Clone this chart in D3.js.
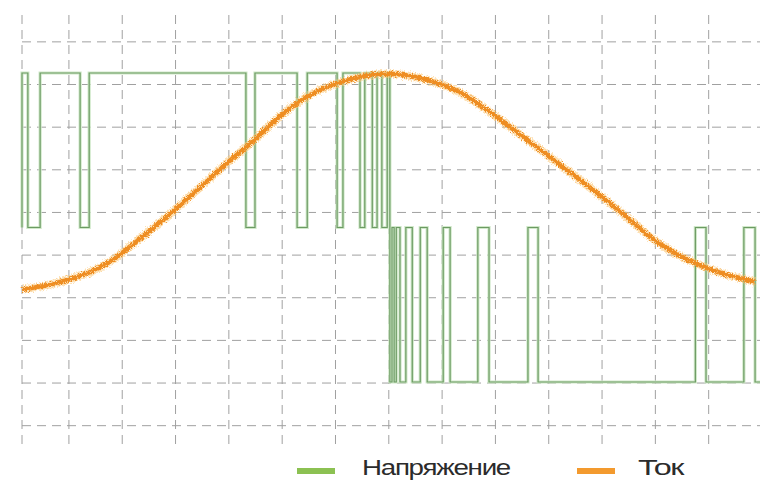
<!DOCTYPE html>
<html>
<head>
<meta charset="utf-8">
<script src="https://cdn.jsdelivr.net/npm/d3@7"></script>
<style>
    body { margin: 0; background: #fff; }
    svg { display: block; }
    .grid line { stroke: #a0a0a0; stroke-width: 1; stroke-dasharray: 9,6; }
    .legend text { font-family: "Liberation Sans", Arial, sans-serif; fill: #2b2b2b; }
</style>
</head>
<body>
<svg width="760" height="480"></svg>
<script>
// time in grid divisions, voltage as level (+1 / 0 / -1), current in grid divisions

var voltageTime = [0.12, 0.12, 0.23, 0.46, 1.21, 1.38, 4.32, 4.49, 5.28, 5.47,
    6.03, 6.14, 6.46, 6.55, 6.69, 6.78, 6.87, 6.97, 7.02, 7.06,
    7.10, 7.14, 7.21, 7.32, 7.44, 7.59, 7.72, 8.02, 8.15, 8.67,
    8.88, 9.61, 9.80, 12.75, 12.95, 13.66, 13.87, 14];
var voltageLevel = [0, 1, 0, 1, 0, 1, 0, 1, 0, 1,
    0, 1, 0, 1, 0, 1, 0, 1, -1, 0,
    -1, 0, -1, 0, -1, 0, -1, 0, -1, 0,
    -1, 0, -1, 0, -1, 0, -1, -1];

var currentTime = [0.12, 0.55, 0.96, 1.40, 1.77, 2.15, 2.76, 3.46, 4.02, 4.40,
    5.02, 5.65, 6.27, 6.74, 7.12, 7.77, 8.28, 8.77, 9.27, 10.02,
    10.96, 11.43, 11.90, 12.37, 12.84, 13.34, 13.87];
var currentValue = [4.19, 4.28, 4.40, 4.59, 4.82, 5.20, 5.81, 6.58, 7.23, 7.59,
    8.36, 8.88, 9.13, 9.25, 9.27, 9.11, 8.88, 8.48, 8.01, 7.30,
    6.41, 5.94, 5.40, 5.03, 4.75, 4.52, 4.38];

var seriesNames = ["Напряжение", "Ток"];
var seriesColors = ["#8cc152", "#f39a2e"];

var svg = d3.select("svg");

// scales: grid divisions on both axes, voltage levels on their own scale
var x = d3.scaleLinear().domain([0.12, 14]).range([22, 762]);
var y = d3.scaleLinear().domain([0.5, 10.63]).range([447, 15]);
var yU = d3.scaleLinear().domain([-1, 1]).range([382, 73]);

// dashed grid
var grid = svg.append("g").attr("class", "grid");

grid.selectAll(".vx")
    .data([x.domain()[0]].concat(x.ticks(14)))
    .enter().append("line")
    .attr("class", "vx")
    .attr("x1", function (d) { return x(d); })
    .attr("x2", function (d) { return x(d); })
    .attr("y1", y.range()[1])
    .attr("y2", y.range()[0]);

grid.selectAll(".hy")
    .data(y.ticks(10))
    .enter().append("line")
    .attr("class", "hy")
    .attr("x1", x.range()[0])
    .attr("x2", 760)
    .attr("y1", function (d) { return y(d); })
    .attr("y2", function (d) { return y(d); });

// roughness filter for the noisy current trace
var defs = svg.append("defs");
var rough = defs.append("filter").attr("id", "rough")
    .attr("filterUnits", "userSpaceOnUse")
    .attr("x", 0).attr("y", 0).attr("width", 760).attr("height", 480);
rough.append("feTurbulence")
    .attr("type", "fractalNoise")
    .attr("baseFrequency", 1.2)
    .attr("numOctaves", 2)
    .attr("seed", 3)
    .attr("result", "noise");
rough.append("feDisplacementMap")
    .attr("in", "SourceGraphic")
    .attr("in2", "noise")
    .attr("scale", 6)
    .attr("xChannelSelector", "R")
    .attr("yChannelSelector", "G");

// voltage: PWM step line
var voltageData = voltageTime.map(function (t, i) {
    return { t: t, u: voltageLevel[i] };
});

var voltageLine = d3.line()
    .x(function (d) { return x(d.t); })
    .y(function (d) { return yU(d.u); })
    .curve(d3.curveStepAfter);

svg.append("path")
    .datum(voltageData)
    .attr("fill", "none")
    .attr("stroke", "#cfe8c8")
    .attr("stroke-width", 3.2)
    .attr("d", voltageLine);

svg.append("path")
    .datum(voltageData)
    .attr("fill", "none")
    .attr("stroke", "#6c9a63")
    .attr("stroke-width", 1.2)
    .attr("d", voltageLine);

// current: thick noisy orange curve
var currentData = currentTime.map(function (t, i) {
    return { t: t, i: currentValue[i] };
});

var currentLine = d3.line()
    .x(function (d) { return x(d.t); })
    .y(function (d) { return y(d.i); })
    .curve(d3.curveBasis);

svg.append("path")
    .datum(currentData)
    .attr("fill", "none")
    .attr("stroke", "#fbc878")
    .attr("stroke-width", 8)
    .attr("stroke-opacity", 0.55)
    .attr("filter", "url(#rough)")
    .attr("d", currentLine);

svg.append("path")
    .datum(currentData)
    .attr("fill", "none")
    .attr("stroke", "#ee8d20")
    .attr("stroke-width", 4.5)
    .attr("filter", "url(#rough)")
    .attr("d", currentLine);

// legend
var legendX = [297, 577];
var legendTextX = [362, 638];
var legendWidth = [148, 45];

var legend = svg.append("g").attr("class", "legend");

legend.selectAll("rect")
    .data(seriesNames)
    .enter().append("rect")
    .attr("x", function (d, i) { return legendX[i]; })
    .attr("y", 468)
    .attr("width", 38)
    .attr("height", 6)
    .attr("fill", function (d, i) { return seriesColors[i]; });

legend.selectAll("text")
    .data(seriesNames)
    .enter().append("text")
    .attr("x", function (d, i) { return legendTextX[i]; })
    .attr("y", 475)
    .attr("font-size", 22)
    .attr("letter-spacing", -1)
    .attr("textLength", function (d, i) { return legendWidth[i]; })
    .attr("lengthAdjust", "spacingAndGlyphs")
    .text(function (d) { return d; });
</script>
</body>
</html>
